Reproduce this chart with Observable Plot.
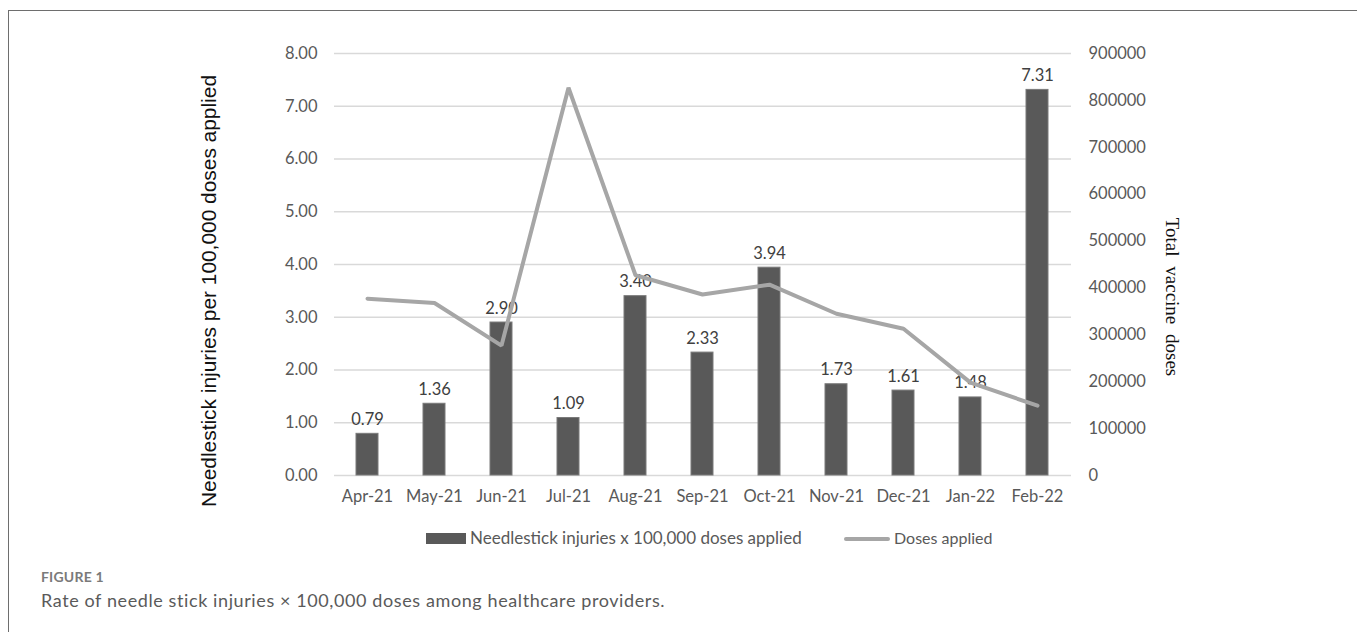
<!DOCTYPE html>
<html>
<head>
<meta charset="utf-8">
<script src="https://cdn.jsdelivr.net/npm/d3@7"></script>
<script src="https://cdn.jsdelivr.net/npm/@observablehq/plot@0.6"></script>
<style>
  html, body { margin: 0; padding: 0; background: #fff; }
  #wrap { position: relative; width: 1357px; height: 632px; overflow: hidden; font-family: Lato, "Open Sans", sans-serif; }
  #frame { position: absolute; left: 8px; top: 10px; right: -5px; bottom: -5px; border-top: 1.5px solid #6e6e6e; border-left: 1.5px solid #6e6e6e; }
  #chart { position: absolute; left: 0; top: 0; }
  #legend { position: absolute; top: 527px; left: 0; width: 1357px; height: 22px; font-size: 16px; color: #595959; }
  #legend .sw { position: absolute; }
  #legend .lt { position: absolute; top: 0; line-height: 22px; white-space: nowrap; }
  #cap1 { position: absolute; left: 41px; top: 568px; font-family: Lato, sans-serif; font-weight: bold; font-size: 14px; color: #7a7a7a; letter-spacing: 0.2px; }
  #cap2 { position: absolute; left: 41px; top: 589px; font-family: Lato, sans-serif; font-size: 18px; letter-spacing: 0.6px; color: #5a5a5a; white-space: nowrap; }
</style>
</head>
<body>
<div id="wrap">
  <div id="frame"></div>
  <div id="chart"></div>
  <div id="legend">
    <div class="sw" style="left:426px;top:6px;width:40px;height:11px;background:#595959;"></div>
    <div class="lt" style="left:470px;font-size:17px;">Needlestick injuries x 100,000 doses applied</div>
    <div class="sw" style="left:844px;top:10px;width:46px;height:4px;background:#a6a6a6;border-radius:2px;"></div>
    <div class="lt" style="left:894px;">Doses applied</div>
  </div>
  <div id="cap1">FIGURE 1</div>
  <div id="cap2">Rate of needle stick injuries × 100,000 doses among healthcare providers.</div>
</div>
<script>
const months = ["Apr-21","May-21","Jun-21","Jul-21","Aug-21","Sep-21","Oct-21","Nov-21","Dec-21","Jan-22","Feb-22"];
const injuryRate = [0.79, 1.36, 2.90, 1.09, 3.40, 2.33, 3.94, 1.73, 1.61, 1.48, 7.31];
const dosesApplied = [377000, 368000, 277000, 827000, 427000, 386000, 407000, 345000, 313000, 198000, 149000];
const leftTicks = [0,1,2,3,4,5,6,7,8];
const rightTicks = [0,100000,200000,300000,400000,500000,600000,700000,800000,900000];
const rightMax = 900000, leftMax = 8;

const toLeft = v => v / rightMax * leftMax;
const bars = months.map((m, i) => ({month: m, rate: injuryRate[i]}));
const line = months.map((m, i) => ({month: m, doses: dosesApplied[i], y: toLeft(dosesApplied[i])}));

const W = 1357, H = 520;
const plot = Plot.plot({
  width: W, height: H,
  marginLeft: 334, marginRight: W - 1071, marginTop: 53, marginBottom: H - 475,
  style: {fontFamily: "Lato, 'Open Sans', sans-serif", fontSize: "16px", color: "#595959", background: "transparent"},
  x: {domain: months, paddingInner: 0.67, paddingOuter: 0.335, label: null},
  y: {domain: [0, leftMax], label: null},
  marks: [
    Plot.ruleY(leftTicks, {stroke: "#d9d9d9", strokeWidth: 1.5}),
    Plot.axisY({anchor: "left", ticks: leftTicks, tickFormat: d => d.toFixed(2), tickSize: 0, tickPadding: 17, label: null, fontSize: 16.5, fill: "#595959"}),
    Plot.axisY({anchor: "right", ticks: rightTicks.map(toLeft), tickFormat: v => String(Math.round(v / leftMax * rightMax)), tickSize: 0, tickPadding: 17, label: null, fontSize: 16.5, fill: "#595959"}),
    Plot.axisX({anchor: "bottom", tickSize: 0, tickPadding: 15, label: null, fontSize: 16.5, fill: "#595959"}),
    Plot.barY(bars, {x: "month", y: "rate", fill: "#595959", stroke: "#7a7a7a", strokeWidth: 1}),
    Plot.text(bars, {x: "month", y: "rate", text: d => d.rate.toFixed(2), lineAnchor: "bottom", dy: -9, fontSize: 16.5, fill: "#404040"}),
    Plot.line(line, {x: "month", y: "y", stroke: "#a6a6a6", strokeWidth: 4, strokeLinejoin: "miter", strokeLinecap: "round"})
  ]
});
document.getElementById("chart").appendChild(plot);

const svg = d3.select(plot);
svg.append("text")
  .attr("transform", "translate(216,291) rotate(-90)")
  .attr("text-anchor", "middle")
  .attr("font-family", "'Liberation Sans', Arial, sans-serif")
  .attr("font-size", 20.5)
  .attr("fill", "#111")
  .attr("textLength", 432)
  .attr("lengthAdjust", "spacingAndGlyphs")
  .text("Needlestick injuries per 100,000 doses applied");
svg.append("text")
  .attr("transform", "translate(1166,297) rotate(90)")
  .attr("text-anchor", "middle")
  .attr("font-family", "'Liberation Serif', 'Times New Roman', serif")
  .attr("font-size", 19)
  .attr("fill", "#111")
  .attr("word-spacing", 5)
  .text("Total vaccine doses");
</script>
</body>
</html>
